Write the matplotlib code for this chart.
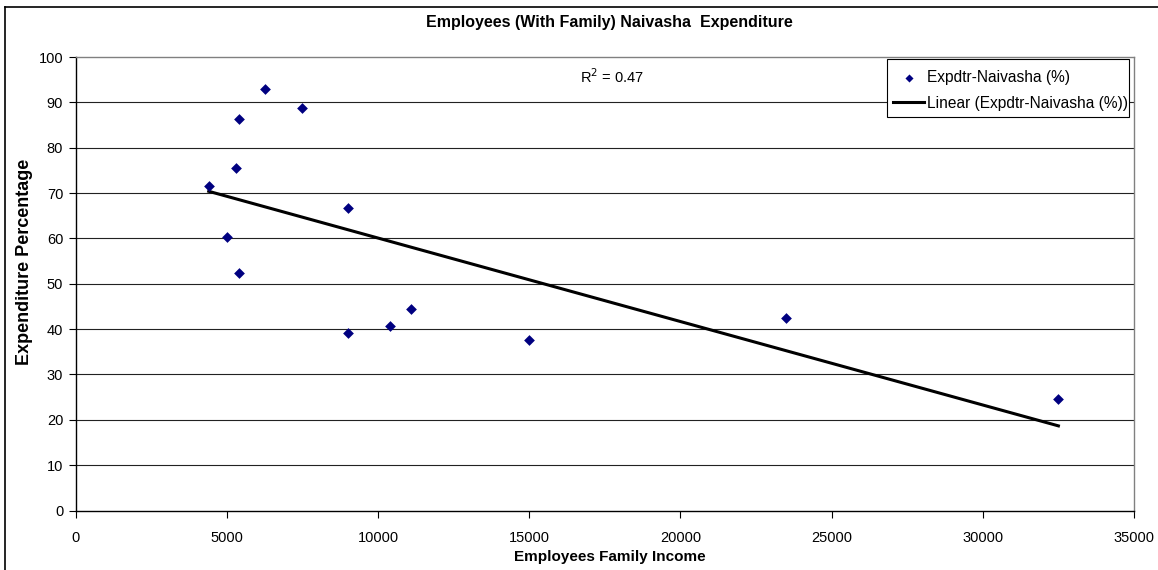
import numpy as np
import matplotlib.pyplot as plt
from matplotlib.lines import Line2D
from matplotlib.patches import Rectangle

plt.rcParams['font.family'] = ['Liberation Sans', 'DejaVu Sans']

# family income (x) vs share of income spent (y)
income = [4400, 5000, 5300, 5400, 5400, 6250, 7500, 9000, 9000,
          10400, 11100, 15000, 23500, 32500]
expenditure = [71.5, 60.3, 75.6, 86.3, 52.4, 93.0, 88.8, 66.7, 39.1,
               40.6, 44.4, 37.6, 42.5, 24.5]

x_ticks = [0, 5000, 10000, 15000, 20000, 25000, 30000, 35000]
y_ticks = [0, 10, 20, 30, 40, 50, 60, 70, 80, 90, 100]

x = np.array(income, dtype=float)
y = np.array(expenditure)

# least squares trend line, drawn between the extreme incomes
slope, icpt = np.polyfit(x, y, 1)
fit = slope * x + icpt
r2 = 1 - np.sum((y - fit) ** 2) / np.sum((y - y.mean()) ** 2)
xt = np.array([x.min(), x.max()])

W, H = 1158, 570
fig = plt.figure(figsize=(W / 100, H / 100), dpi=100)
ax = fig.add_axes([75.7 / W, 1 - 510.5 / H, (1134 - 75.7) / W, (510.5 - 57.1) / H])

for t in y_ticks[1:-1]:
    ax.axhline(t, color='#222222', lw=0.8, zorder=1)

ax.scatter(x, y, marker='D', s=30, color='#000080', zorder=3, linewidths=0,
           label='Expdtr-Naivasha (%)')
ax.plot(xt, slope * xt + icpt, color='black', lw=2.2, zorder=2,
        label='Linear (Expdtr-Naivasha (%))')

ax.set_xlim(0, 35000)
ax.set_ylim(0, 100)
ax.set_xticks(x_ticks)
ax.set_yticks(y_ticks)
ax.tick_params(direction='out', length=5, width=0.8, labelsize=10.5, color='black', pad=4)
ax.tick_params(axis='x', pad=10)

for s in ['top', 'right']:
    ax.spines[s].set_color('#808080')
    ax.spines[s].set_linewidth(1)
for s in ['left', 'bottom']:
    ax.spines[s].set_color('black')
    ax.spines[s].set_linewidth(1)

fig.text(609 / W, 1 - 23 / H, 'Employees (With Family) Naivasha  Expenditure',
         ha='center', va='center', fontsize=11.5, fontweight='bold')
fig.text(610 / W, 1 - 557 / H, 'Employees Family Income',
         ha='center', va='center', fontsize=11, fontweight='bold')
fig.text(25 / W, 1 - 262 / H, 'Expenditure Percentage', rotation=90,
         ha='center', va='center', fontsize=13, fontweight='bold')

ax.text(0.4765, 0.957, 'R$^2$ = %.2f' % r2, transform=ax.transAxes,
        ha='left', va='center', fontsize=10.5, zorder=5,
        bbox=dict(facecolor='white', edgecolor='none', pad=6))

# legend box drawn separately so its padding can be tight on the right
ax.add_patch(Rectangle((887 / W, 1 - 117 / H), 242 / W, 58 / H,
                       transform=fig.transFigure, facecolor='white',
                       edgecolor='black', lw=0.8, zorder=5, clip_on=False))
leg = ax.legend(loc='upper left', bbox_to_anchor=(887 / W, 1 - 64 / H),
                bbox_transform=fig.transFigure, frameon=False,
                fontsize=11.2, handlelength=2.0, handletextpad=0.15,
                borderpad=0.4, labelspacing=0.68, borderaxespad=0,
                scatterpoints=1, markerscale=0.75)
leg.set_zorder(6)

# chart outline (top and left edges fall inside the canvas)
fig.add_artist(Line2D([4.6 / W, 4.6 / W], [0, 1 - 7.3 / H], color='black', lw=1.2))
fig.add_artist(Line2D([4.6 / W, 1], [1 - 7.3 / H, 1 - 7.3 / H], color='black', lw=1.2))

fig.savefig('out.png', dpi=100)
